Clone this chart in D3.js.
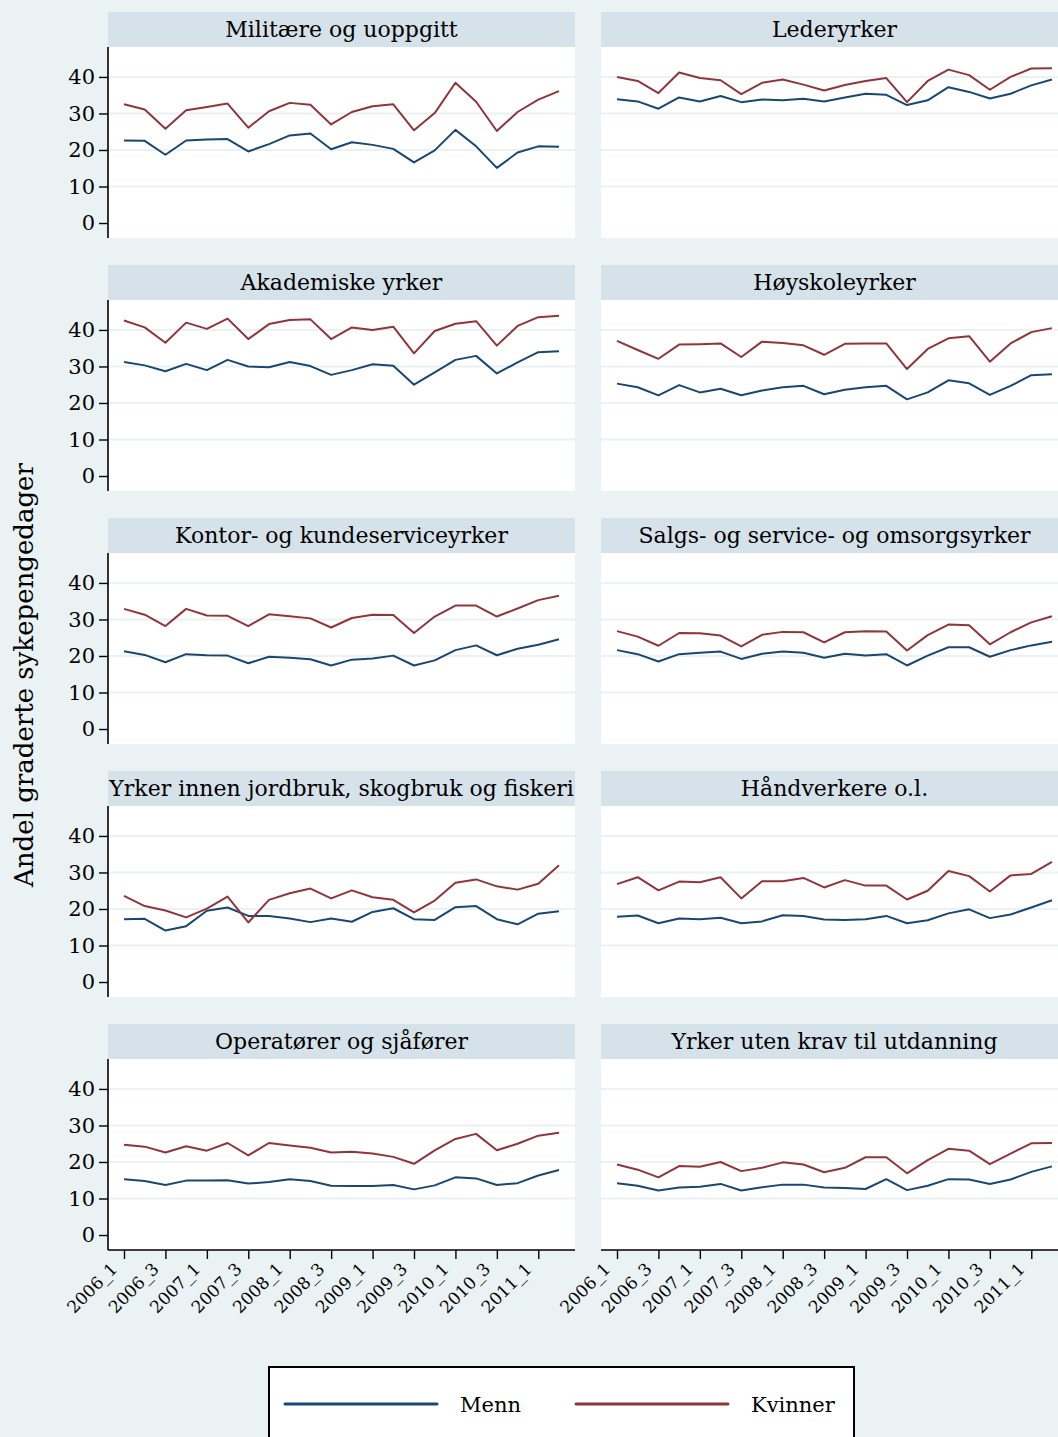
<!DOCTYPE html>
<html>
<head>
<meta charset="utf-8">
<script src="https://cdn.jsdelivr.net/npm/d3@7"></script>
<style>
    body { margin: 0; background: #eaf2f3; }
    svg { display: block; }
    text { font-family: "DejaVu Serif", serif; fill: #000; }
</style>
</head>
<body>
<svg id="chart"></svg>
<script>
// Quarters 2006_1 .. 2011_2
const quarters = [
    "2006_1", "2006_2", "2006_3", "2006_4", "2007_1", "2007_2", "2007_3", "2007_4",
    "2008_1", "2008_2", "2008_3", "2008_4", "2009_1", "2009_2", "2009_3", "2009_4",
    "2010_1", "2010_2", "2010_3", "2010_4", "2011_1", "2011_2"
];
const yTicks = [0, 10, 20, 30, 40];
const gridTicks = [10, 20, 30, 40];
const seriesNames = ["Menn", "Kvinner"];

const militaereMenn = [22.6, 22.5, 18.7, 22.6, 22.9, 23.0, 19.6, 21.6, 24.0, 24.5, 20.2, 22.1, 21.4, 20.3, 16.6, 19.9, 25.5, 21.0, 15.1, 19.3, 21.0, 20.9];
const militaereKvinner = [32.5, 31.1, 25.8, 30.9, 31.8, 32.7, 26.1, 30.6, 32.9, 32.4, 27.0, 30.4, 32.0, 32.5, 25.4, 30.1, 38.4, 33.2, 25.2, 30.4, 33.8, 36.1];

const lederMenn = [33.9, 33.3, 31.3, 34.4, 33.3, 34.8, 33.1, 33.8, 33.6, 34.0, 33.3, 34.4, 35.4, 35.1, 32.3, 33.6, 37.2, 35.9, 34.1, 35.4, 37.7, 39.3];
const lederKvinner = [40.0, 38.9, 35.6, 41.2, 39.7, 39.1, 35.3, 38.4, 39.3, 37.9, 36.3, 37.8, 38.9, 39.7, 33.1, 38.9, 42.0, 40.5, 36.5, 40.0, 42.3, 42.4];

const akademiskeMenn = [31.2, 30.3, 28.7, 30.7, 29.0, 31.8, 30.0, 29.8, 31.2, 30.1, 27.7, 29.0, 30.6, 30.2, 25.0, 28.4, 31.8, 32.9, 28.1, 31.1, 33.9, 34.2];
const akademiskeKvinner = [42.6, 40.7, 36.5, 42.0, 40.3, 43.1, 37.5, 41.6, 42.7, 42.9, 37.5, 40.7, 40.0, 40.9, 33.6, 39.7, 41.7, 42.4, 35.7, 41.1, 43.5, 43.9];

const hoyskoleMenn = [25.3, 24.3, 22.1, 24.9, 22.9, 23.9, 22.1, 23.4, 24.3, 24.7, 22.4, 23.6, 24.3, 24.7, 21.0, 22.9, 26.2, 25.4, 22.2, 24.7, 27.6, 27.9];
const hoyskoleKvinner = [37.0, 34.5, 32.1, 36.0, 36.1, 36.3, 32.6, 36.8, 36.4, 35.8, 33.2, 36.2, 36.3, 36.3, 29.3, 34.8, 37.7, 38.3, 31.3, 36.3, 39.4, 40.5];

const kontorMenn = [21.3, 20.3, 18.3, 20.5, 20.2, 20.1, 18.0, 19.8, 19.5, 19.1, 17.4, 19.0, 19.3, 20.1, 17.4, 18.8, 21.6, 22.9, 20.2, 22.0, 23.1, 24.6];
const kontorKvinner = [32.9, 31.3, 28.2, 32.9, 31.1, 31.0, 28.2, 31.4, 30.9, 30.3, 27.8, 30.4, 31.3, 31.2, 26.3, 30.8, 33.8, 33.8, 30.8, 33.0, 35.3, 36.5];

const salgMenn = [21.6, 20.5, 18.5, 20.5, 20.9, 21.2, 19.2, 20.6, 21.2, 20.9, 19.5, 20.6, 20.1, 20.5, 17.4, 20.1, 22.4, 22.4, 19.8, 21.6, 22.9, 23.9];
const salgKvinner = [26.8, 25.3, 22.8, 26.3, 26.2, 25.6, 22.6, 25.8, 26.6, 26.5, 23.7, 26.5, 26.8, 26.7, 21.5, 25.7, 28.6, 28.4, 23.2, 26.5, 29.2, 30.9];

const jordbrukMenn = [17.2, 17.3, 14.1, 15.3, 19.5, 20.4, 18.1, 18.1, 17.4, 16.4, 17.4, 16.5, 19.2, 20.2, 17.2, 17.0, 20.5, 20.8, 17.2, 15.8, 18.7, 19.4];
const jordbrukKvinner = [23.6, 20.8, 19.6, 17.7, 20.1, 23.4, 16.3, 22.5, 24.3, 25.6, 22.9, 25.1, 23.2, 22.5, 19.1, 22.3, 27.2, 28.1, 26.2, 25.3, 26.9, 32.0];

const handverkMenn = [17.9, 18.2, 16.1, 17.4, 17.2, 17.6, 16.1, 16.6, 18.3, 18.1, 17.1, 17.0, 17.2, 18.1, 16.1, 16.9, 18.8, 19.9, 17.5, 18.5, 20.4, 22.4];
const handverkKvinner = [26.8, 28.7, 25.1, 27.5, 27.3, 28.7, 22.9, 27.6, 27.6, 28.5, 25.9, 27.9, 26.4, 26.4, 22.6, 25.0, 30.4, 29.0, 24.8, 29.2, 29.6, 32.9];

const operatorMenn = [15.3, 14.8, 13.7, 14.9, 14.9, 15.0, 14.1, 14.5, 15.3, 14.8, 13.5, 13.4, 13.4, 13.7, 12.5, 13.6, 15.8, 15.5, 13.7, 14.2, 16.3, 17.8];
const operatorKvinner = [24.7, 24.2, 22.6, 24.3, 23.1, 25.2, 21.8, 25.2, 24.5, 23.9, 22.6, 22.8, 22.3, 21.4, 19.5, 23.2, 26.3, 27.7, 23.2, 25.0, 27.2, 28.0];

const utenKravMenn = [14.2, 13.5, 12.2, 13.0, 13.2, 14.0, 12.2, 13.1, 13.8, 13.8, 13.0, 12.9, 12.6, 15.3, 12.3, 13.5, 15.3, 15.2, 14.0, 15.2, 17.3, 18.8];
const utenKravKvinner = [19.3, 17.9, 15.8, 18.9, 18.7, 20.0, 17.5, 18.4, 19.9, 19.3, 17.2, 18.4, 21.3, 21.3, 16.9, 20.5, 23.6, 23.1, 19.4, 22.3, 25.1, 25.2];

const panels = [
    { title: "Militære og uoppgitt", menn: militaereMenn, kvinner: militaereKvinner },
    { title: "Lederyrker", menn: lederMenn, kvinner: lederKvinner },
    { title: "Akademiske yrker", menn: akademiskeMenn, kvinner: akademiskeKvinner },
    { title: "Høyskoleyrker", menn: hoyskoleMenn, kvinner: hoyskoleKvinner },
    { title: "Kontor- og kundeserviceyrker", menn: kontorMenn, kvinner: kontorKvinner },
    { title: "Salgs- og service- og omsorgsyrker", menn: salgMenn, kvinner: salgKvinner },
    { title: "Yrker innen jordbruk, skogbruk og fiskeri", menn: jordbrukMenn, kvinner: jordbrukKvinner },
    { title: "Håndverkere o.l.", menn: handverkMenn, kvinner: handverkKvinner },
    { title: "Operatører og sjåfører", menn: operatorMenn, kvinner: operatorKvinner },
    { title: "Yrker uten krav til utdanning", menn: utenKravMenn, kvinner: utenKravKvinner }
];

const width = 1058;
const height = 1437;
const colors = { Menn: "#1a476f", Kvinner: "#90353b" };

const colX = [108, 601];
const panelW = 467;
const rowStep = 253;
const firstTop = 12;
const stripH = 35;
const plotH = 191;
const nRows = 5;

const svg = d3.select("#chart").attr("width", width).attr("height", height);

svg.append("rect").attr("width", width).attr("height", height).attr("fill", "#eaf2f3");

// shared scales (relative to a panel)
const yScale = d3.scaleLinear().domain([-4.1, 48.2]).range([plotH, 0]);
const xScale = d3.scaleLinear()
    .domain([0, quarters.length - 1])
    .range([16, panelW - 16]);

const line = d3.line()
    .x((d, i) => xScale(i))
    .y((d) => yScale(d));

panels.forEach((p, k) => {
    const col = k % 2;
    const row = Math.floor(k / 2);
    const top = firstTop + row * rowStep;

    const g = svg.append("g").attr("transform", `translate(${colX[col]},${top})`);

    // title strip
    g.append("rect")
        .attr("width", panelW).attr("height", stripH)
        .attr("fill", "#d6e2e9");
    g.append("text")
        .attr("x", panelW / 2).attr("y", 25)
        .attr("text-anchor", "middle")
        .attr("font-size", 22)
        .text(p.title);

    const plot = g.append("g").attr("transform", `translate(0,${stripH})`);
    plot.append("rect").attr("width", panelW).attr("height", plotH).attr("fill", "#fff");

    plot.selectAll("line.grid")
        .data(gridTicks)
        .enter()
        .append("line")
        .attr("class", "grid")
        .attr("x1", 0).attr("x2", panelW)
        .attr("y1", (d) => yScale(d)).attr("y2", (d) => yScale(d))
        .attr("stroke", "#eaf2f3").attr("stroke-width", 2);

    // lines
    [["Menn", p.menn], ["Kvinner", p.kvinner]].forEach(([name, vals]) => {
        plot.append("path")
            .datum(vals)
            .attr("fill", "none")
            .attr("stroke", colors[name])
            .attr("stroke-width", 2)
            .attr("stroke-linejoin", "round")
            .attr("d", line);
    });

    // y axis on left column
    if (col === 0) {
        const yAxis = d3.axisLeft(yScale).tickValues(yTicks).tickSize(9).tickPadding(4);
        const ya = plot.append("g").call(yAxis);
        ya.select(".domain").attr("stroke", "#000").attr("stroke-width", 1.6)
            .attr("d", `M0,0V${plotH}`);
        ya.selectAll(".tick line").attr("stroke", "#000").attr("stroke-width", 1.4);
        ya.selectAll(".tick text")
            .attr("font-size", 21)
            .attr("font-family", "DejaVu Serif, serif")
            .attr("fill", "#000");
    }

    // x axis on bottom row
    if (row === nRows - 1) {
        const xAxis = d3.axisBottom(xScale)
            .tickValues(d3.range(0, quarters.length, 2))
            .tickFormat((i) => quarters[i])
            .tickSize(9);
        const xa = plot.append("g").attr("transform", `translate(0,${plotH})`).call(xAxis);
        xa.select(".domain").attr("stroke", "#000").attr("stroke-width", 1.6)
            .attr("d", `M0,0H${panelW}`);
        xa.selectAll(".tick line").attr("stroke", "#000").attr("stroke-width", 1.4);
        xa.selectAll(".tick text")
            .attr("font-size", 17)
            .attr("font-family", "DejaVu Serif, serif")
            .attr("fill", "#000")
            .attr("text-anchor", "end")
            .attr("dy", null)
            .attr("y", null)
            .attr("transform", "translate(-6,20) rotate(-45)");
    }
});

// y axis title
svg.append("text")
    .attr("transform", "translate(33,675) rotate(-90)")
    .attr("text-anchor", "middle")
    .attr("font-size", 26)
    .text("Andel graderte sykepengedager");

// legend
const legend = svg.append("g");
legend.append("rect")
    .attr("x", 269).attr("y", 1367)
    .attr("width", 585).attr("height", 100)
    .attr("fill", "#fff").attr("stroke", "#000").attr("stroke-width", 2);

const legendX = [285, 576];
seriesNames.forEach((name, i) => {
    legend.append("line")
        .attr("x1", legendX[i]).attr("x2", legendX[i] + 152)
        .attr("y1", 1404).attr("y2", 1404)
        .attr("stroke", colors[name]).attr("stroke-width", 3)
        .attr("stroke-linecap", "round");
    legend.append("text")
        .attr("x", legendX[i] + 175).attr("y", 1412)
        .attr("font-size", 21)
        .text(name);
});
</script>
</body>
</html>
